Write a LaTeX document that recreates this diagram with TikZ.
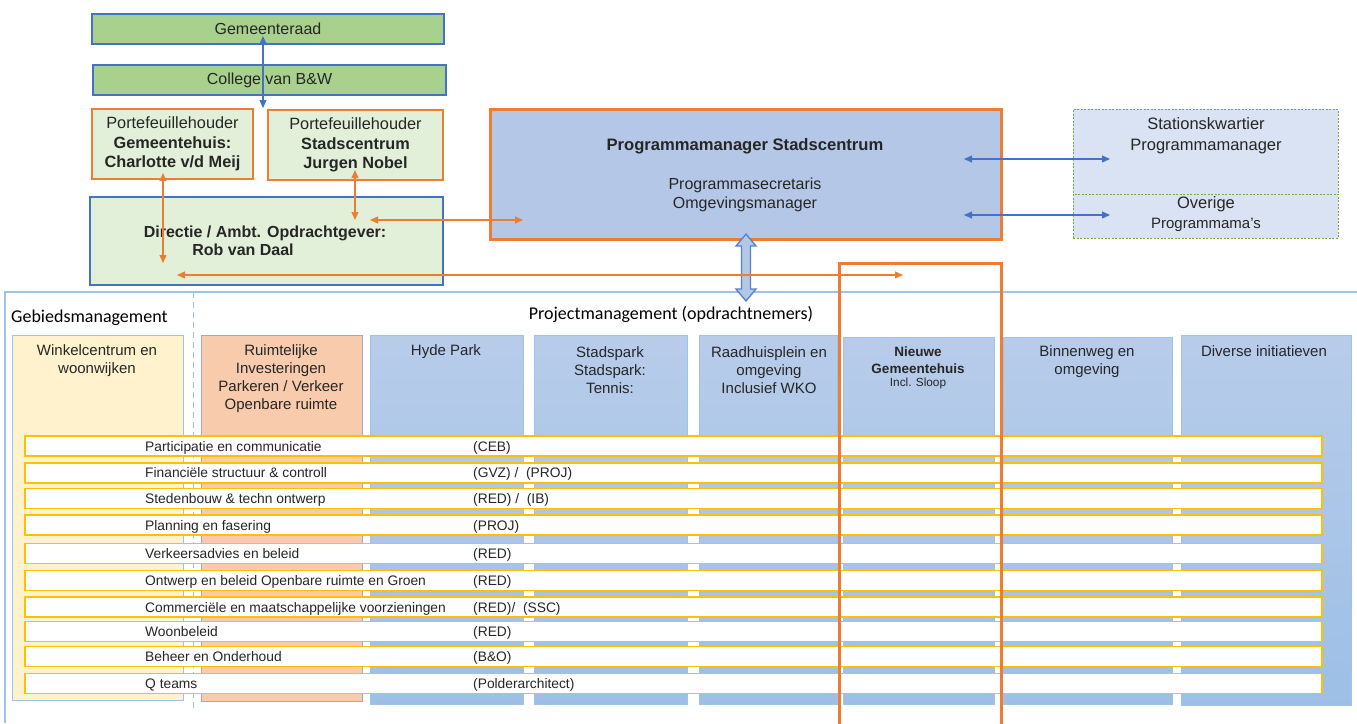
\documentclass[tikz,border=0pt]{standalone}
\usepackage{fontspec}
\setmainfont{Liberation Sans}
\newfontfamily\calfont{Carlito}
\usetikzlibrary{arrows.meta}
\definecolor{grn}{HTML}{A9D18E}
\definecolor{lgrn}{HTML}{E2F0D9}
\definecolor{bblue}{HTML}{4472C4}
\definecolor{orng}{HTML}{ED7D31}
\definecolor{pmfill}{HTML}{B4C7E7}
\definecolor{statfill}{HTML}{DAE3F3}
\definecolor{statdash}{HTML}{70AD47}
\definecolor{ycol}{HTML}{FFF2CC}
\definecolor{scol}{HTML}{F8CBAD}
\definecolor{rowy}{HTML}{FFC000}
\definecolor{framebl}{HTML}{9DC3E6}
\definecolor{coltop}{HTML}{B8CCEA}
\definecolor{colbot}{HTML}{9DBFE6}
\definecolor{txt}{HTML}{262626}
\begin{document}
\begin{tikzpicture}[x=1pt,y=-1pt,
  fsz/.style={font=\fontsize{#1}{18}\selectfont},
  txtnode/.style={inner sep=0pt,align=center,text=txt},
  greenbox/.style={draw=bblue,fill=grn,line width=1.1pt,inner sep=0pt,text=txt,fsz=16},
  pfbox/.style={draw=orng,fill=lgrn,line width=1.1pt,inner sep=0pt,align=center,text=txt,font=\fontsize{16.3}{19.5}\selectfont},
  dirbox/.style={draw=bblue,fill=lgrn,line width=1.1pt,inner sep=0pt},
  pmbox/.style={draw=orng,fill=pmfill,line width=3pt,inner sep=0pt},
  statbox/.style={draw=statdash,fill=statfill,dashed,dash pattern=on 2pt off 1.5pt,line width=0.8pt,inner sep=0pt},
  colbox/.style={draw=framebl,line width=0.8pt,inner sep=0pt},
  bluecol/.style={colbox,top color=coltop,bottom color=colbot},
  coltxt/.style={txtnode,font=\fontsize{15}{18}\selectfont},
  rowbox/.style={draw=rowy,fill=white,line width=1.6pt,inner sep=0pt,minimum width=1297,minimum height=20},
  rowtxt/.style={inner sep=0pt,anchor=base west,text=txt,font=\fontsize{13.8}{16}\selectfont},
  oarrow/.style={draw=orng,line width=1.1pt,{Triangle[length=8pt,width=7pt]}-{Triangle[length=8pt,width=7pt]}},
  barrow/.style={draw=bblue,line width=1.1pt,{Triangle[length=8pt,width=7pt]}-{Triangle[length=8pt,width=7pt]}},
  framel/.style={draw=framebl,line width=1.1pt}
]
\useasboundingbox (0,0) rectangle (1357,723);

% top governance
\node[greenbox,minimum width=352,minimum height=30] (gr) at (268,29) {Gemeenteraad};
\node[greenbox,minimum width=353,minimum height=30] (bw) at (269.5,80) {College van B\&W};
\node[pfbox,minimum width=161,minimum height=70] (pl) at (172.5,144) {Portefeuillehouder\\\textbf{Gemeentehuis:}\\\textbf{Charlotte v/d Meij}};
\node[pfbox,minimum width=175,minimum height=70] (pr) at (355.5,145) {Portefeuillehouder\\\textbf{Stadscentrum}\\\textbf{Jurgen Nobel}};
\node[dirbox,minimum width=353,minimum height=88] (dir) at (266.5,241) {};
\node[txtnode,font=\fontsize{16}{18.5}\selectfont\bfseries] (dirt) at (265,241) {Directie / Ambt. Opdrachtgever:\\Rob van Daal\hspace*{44pt}};

% programme manager
\node[pmbox,minimum width=511,minimum height=130] (pm) at (745.5,174) {};
\node[txtnode,font=\fontsize{16.6}{19}\selectfont\bfseries] (pmt1) at (745,146) {Programmamanager Stadscentrum};
\node[txtnode,font=\fontsize{16}{19}\selectfont] (pmt2) at (745,195) {Programmasecretaris\\Omgevingsmanager};

\node[statbox,minimum width=265,minimum height=85] (stat) at (1205.5,151.5) {};
\node[statbox,minimum width=265,minimum height=44] (ov) at (1205.5,216) {};
\node[txtnode,font=\fontsize{16.5}{21}\selectfont] (statt) at (1206,136) {Stationskwartier\\Programmamanager};
\node[txtnode,font=\fontsize{16.5}{20}\selectfont] (ovt) at (1206,214) {Overige\\{\fontsize{15}{20}\selectfont Programmama's}};

% frame
\coordinate (fr0) at (5,723);
\coordinate (fr1) at (5,292);
\coordinate (fr2) at (1357,292);
\draw[framel] (fr0) -- (fr1) -- (fr2);
\coordinate (ds0) at (193,292);
\coordinate (ds1) at (193,712);
\draw[draw=framebl,line width=1pt,dash pattern=on 6pt off 4pt] (ds0) -- (ds1);

\node[inner sep=0pt,anchor=west,font=\calfont\fontsize{18}{20}\selectfont] (gbm) at (11,318) {Gebiedsmanagement};
\node[inner sep=0pt,font=\calfont\fontsize{18}{20}\selectfont] (pjm) at (671,314) {Projectmanagement (opdrachtnemers)};

% columns
\node[colbox,fill=ycol,minimum width=171,minimum height=365] (c1) at (97.5,517.5) {};
\node[colbox,fill=scol,draw=framebl!70!gray,minimum width=161,minimum height=366] (c2) at (281.5,518) {};
\node[bluecol,minimum width=153,minimum height=369] (c3) at (446.5,519.5) {};
\node[bluecol,minimum width=153,minimum height=369] (c4) at (610.5,519.5) {};
\node[bluecol,minimum width=138,minimum height=369] (c5) at (768,519.5) {};
\node[bluecol,minimum width=151,minimum height=367] (c6) at (918.5,520.5) {};
\node[bluecol,minimum width=169,minimum height=367] (c7) at (1087.5,520.5) {};
\node[bluecol,minimum width=170,minimum height=370] (c8) at (1266,520) {};

\node[coltxt] (c1t) at (97,361) {Winkelcentrum en\\woonwijken};
\node[coltxt] (c2t) at (281,378.5) {Ruimtelijke\\Investeringen\\Parkeren / Verkeer\\Openbare ruimte};
\node[coltxt] (c3t) at (446,352) {Hyde Park};
\node[coltxt] (c4t) at (610,370) {Stadspark\\Stadspark:\\Tennis:};
\node[coltxt] (c5t) at (769,370) {Raadhuisplein en\\omgeving\\Inclusief WKO};
\node[txtnode,font=\fontsize{13.5}{17}\selectfont\bfseries] (c6t) at (918,360.5) {Nieuwe\\Gemeentehuis};
\node[txtnode,font=\fontsize{11.8}{13}\selectfont] (c6s) at (918,383) {Incl. Sloop};
\node[coltxt] (c7t) at (1087,361.5) {Binnenweg en\\omgeving};
\node[coltxt] (c8t) at (1264,351) {Diverse initiatieven};

% rows
\foreach \i/\y/\lab/\code in {
  1/446/{Participatie en communicatie}/{(CEB)},
  2/472.7/{Financiële structuur \& controll}/{(GVZ) /\ \ (PROJ)},
  3/498.5/{Stedenbouw \& techn ontwerp}/{(RED) /\ \ (IB)},
  4/525.2/{Planning en fasering}/{(PROJ)},
  5/553.5/{Verkeersadvies en beleid}/{(RED)},
  6/580.4/{Ontwerp en beleid Openbare ruimte en Groen}/{(RED)},
  7/607/{Commerciële en maatschappelijke voorzieningen}/{(RED)/\ \ (SSC)},
  8/631.4/{Woonbeleid}/{(RED)},
  9/656.5/{Beheer en Onderhoud}/{(B\&O)},
  10/683.6/{Q teams}/{(Polderarchitect)}}{
  \node[rowbox] (r\i) at (673.5,\y) {};
  \node[rowtxt] (rl\i) at (145,\y+5) {\lab};
  \node[rowtxt] (rc\i) at (473,\y+5) {\code};
}

% arrows
\coordinate (a1s) at (263,36);
\coordinate (a1e) at (263,108);
\draw[barrow] (a1s) -- (a1e);
\coordinate (a2s) at (163,173);
\coordinate (a2e) at (163,263);
\draw[oarrow] (a2s) -- (a2e);
\coordinate (a3s) at (355,170);
\coordinate (a3e) at (355,220);
\draw[oarrow] (a3s) -- (a3e);
\coordinate (a4s) at (370,220);
\coordinate (a4e) at (523,220);
\draw[oarrow] (a4s) -- (a4e);
\coordinate (a6s) at (964,159);
\coordinate (a6e) at (1110,159);
\draw[barrow] (a6s) -- (a6e);
\coordinate (a7s) at (964,215);
\coordinate (a7e) at (1110,215);
\draw[barrow] (a7s) -- (a7e);

% big double arrow
\draw[draw=bblue!80!framebl,fill=pmfill,line width=1.3pt,line join=miter]
  (746,234) -- (756,246) -- (750.5,246) -- (750.5,289) -- (756,289) -- (746,301)
  -- (736,289) -- (741.5,289) -- (741.5,246) -- (736,246) -- cycle;

\coordinate (a5s) at (177,275);
\coordinate (a5e) at (903,275);
\draw[oarrow] (a5s) -- (a5e);

% highlight
\coordinate (h0) at (839,726);
\coordinate (h1) at (839,263);
\coordinate (h2) at (1001,263);
\coordinate (h3) at (1001,726);
\draw[draw=orng,line width=3pt] (h0) -- (h1) -- (h2) -- (h3);
\end{tikzpicture}
\end{document}
